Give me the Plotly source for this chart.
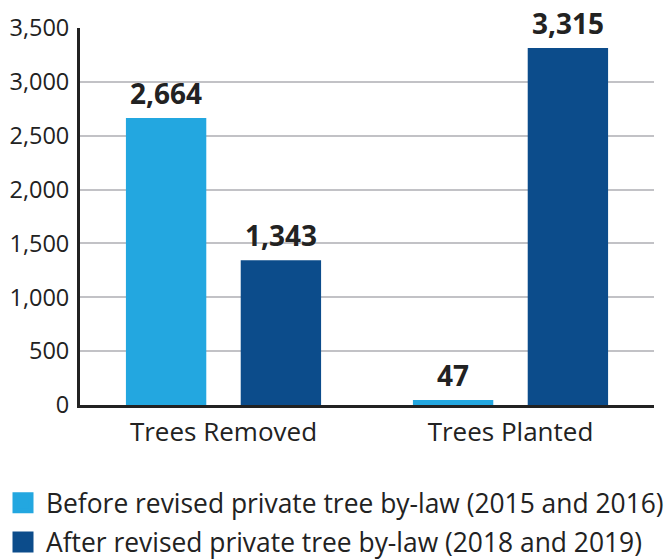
import plotly.graph_objects as go

categories = ["Trees Removed", "Trees Planted"]
before_values = [2664, 47]
after_values = [1343, 3315]
series_names = ["Before revised private tree by-law (2015 and 2016)",
                "After revised private tree by-law (2018 and 2019)"]
y_ticks = [0, 500, 1000, 1500, 2000, 2500, 3000, 3500]

LIGHT = "#23A7E0"
DARK = "#0C4C8B"
FONT = "Open Sans"
TXT = "#222222"

fig = go.Figure()
fig.add_trace(go.Bar(x=categories, y=before_values, name=series_names[0],
                     marker=dict(color=LIGHT, line=dict(width=0)), showlegend=False))
fig.add_trace(go.Bar(x=categories, y=after_values, name=series_names[1],
                     marker=dict(color=DARK, line=dict(width=0)), showlegend=False))

# legend-only entries with large square swatches
for name, col, grp in ((series_names[0], LIGHT, "a"), (series_names[1], DARK, "b")):
    fig.add_trace(go.Scatter(x=[None], y=[None], mode="markers", name=name,
                             legendgroup=grp,
                             marker=dict(symbol="square", size=16, color=col,
                                         line=dict(color=col, width=5))))

# value labels
for vals, shift in ((before_values, -57.5), (after_values, 57.5)):
    for c, v in zip(categories, vals):
        fig.add_annotation(x=c, y=v, xref="x", yref="y", text=f"<b>{v:,}</b>",
                           showarrow=False, xshift=shift, yshift=4, yanchor="bottom",
                           font=dict(family=FONT, size=28, color=TXT))

fig.update_layout(
    width=668, height=560,
    margin=dict(l=80, r=14, t=28, b=155, autoexpand=False),
    paper_bgcolor="white", plot_bgcolor="white",
    barmode="group", bargap=0.2, bargroupgap=0.3,
    font=dict(family=FONT, color=TXT),
    showlegend=True,
    legend=dict(xref="container", yref="container", x=0.0, y=1 - 479 / 560,
                xanchor="left", yanchor="top", orientation="v",
                font=dict(family=FONT, size=26.4, color=TXT),
                itemsizing="trace", itemwidth=36, tracegroupgap=2,
                traceorder="grouped", bgcolor="rgba(0,0,0,0)"),
    xaxis=dict(showline=True, linecolor=TXT, linewidth=3, ticks="",
               tickfont=dict(family=FONT, size=26, color=TXT),
               ticklabelstandoff=2, range=[-0.5, 1.5]),
    yaxis=dict(range=[0, 3500], tickvals=y_ticks, tickformat=",",
               showgrid=True, gridcolor="#C2C2C6", gridwidth=2,
               showline=True, linecolor=TXT, linewidth=3,
               zeroline=False, ticks="", ticklen=0, ticklabelstandoff=3,
               tickfont=dict(family=FONT, size=23.5, color=TXT)),
)

fig.write_html("out.html", config={"displayModeBar": False},
               post_script="document.body.style.margin='0';document.body.style.overflow='hidden';")
